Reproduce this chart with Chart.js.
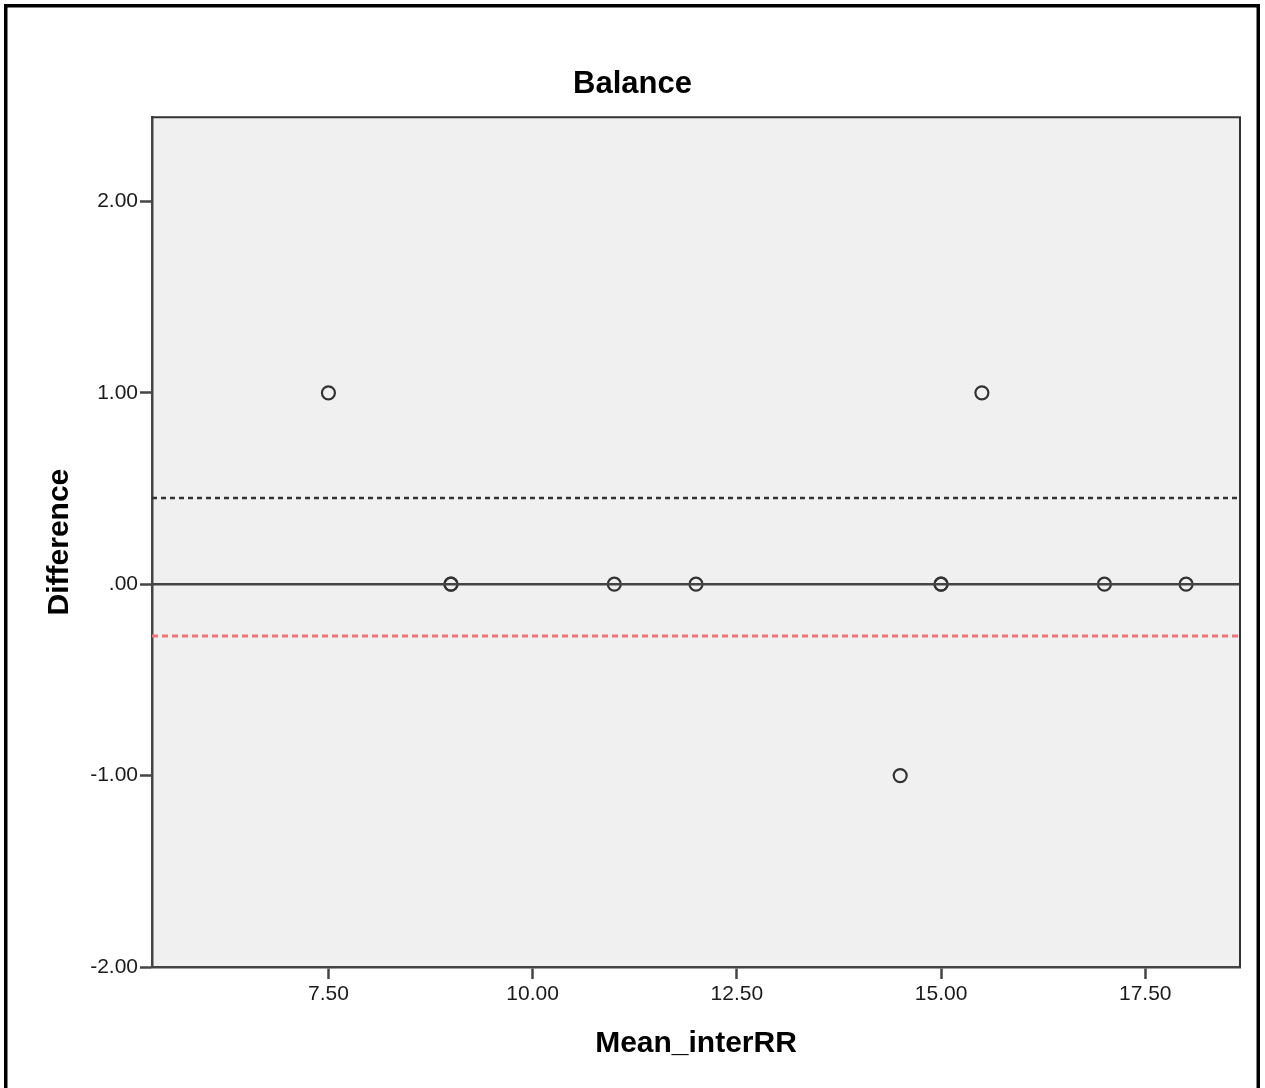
<!DOCTYPE html>
<html>
<head>
<meta charset="utf-8">
<script src="https://cdn.jsdelivr.net/npm/chart.js@4/dist/chart.umd.min.js"></script>
<style>
  html, body { margin: 0; padding: 0; background: #fff; }
  canvas { display: block; }
</style>
</head>
<body>
<canvas id="balanceChart" width="1265" height="1088"></canvas>
<script>
const meanValues = [7.5, 9, 9, 11, 12, 14.5, 15, 15, 15.5, 17, 18];
const diffValues = [1, 0, 0, 0, 0, -1, 0, 0, 1, 0, 0];

const xTicks = [7.5, 10, 12.5, 15, 17.5];
const yTicks = [-2, -1, 0, 1, 2];

const xRange = [5.34, 18.66];
const yRange = [-2, 2.44];

const zeroLine = 0;
const upperLimit = 0.45;
const lowerLimit = -0.27;

Chart.defaults.font.family = "'Liberation Sans', Arial, sans-serif";

function hLine(value) {
  return [{ x: xRange[0], y: value }, { x: xRange[1], y: value }];
}

function formatTick(value) {
  return value.toFixed(2).replace(/^(-?)0\./, "$1.");
}

const framePlugin = {
  id: "frame",
  beforeDraw(chart) {
    const ctx = chart.ctx;
    const area = chart.chartArea;
    ctx.save();
    ctx.fillStyle = "#ffffff";
    ctx.fillRect(0, 0, chart.width, chart.height);
    ctx.fillStyle = "#f0f0f0";
    ctx.fillRect(area.left, area.top, area.right - area.left, area.bottom - area.top);
    ctx.strokeStyle = "#000000";
    ctx.lineWidth = 3.5;
    ctx.strokeRect(5.75, 5.75, 1252.5, 1120);
    ctx.restore();
  },
  afterDraw(chart) {
    const ctx = chart.ctx;
    const area = chart.chartArea;
    ctx.save();
    ctx.strokeStyle = "#333333";
    ctx.lineWidth = 2;
    ctx.beginPath();
    ctx.moveTo(area.left, area.top);
    ctx.lineTo(area.right, area.top);
    ctx.lineTo(area.right, area.bottom);
    ctx.stroke();
    ctx.restore();
  }
};

const ctx = document.getElementById("balanceChart");

new Chart(ctx, {
  type: "scatter",
  data: {
    datasets: [
      {
        label: "zero",
        data: hLine(zeroLine),
        showLine: true,
        borderColor: "#444444",
        borderWidth: 2.5,
        pointRadius: 0
      },
      {
        label: "upper",
        data: hLine(upperLimit),
        showLine: true,
        borderColor: "#333333",
        borderWidth: 2.5,
        borderDash: [5, 4],
        pointRadius: 0
      },
      {
        label: "lower",
        data: hLine(lowerLimit),
        showLine: true,
        borderColor: "#f07575",
        borderWidth: 3,
        borderDash: [6, 4],
        pointRadius: 0
      },
      {
        label: "Difference",
        data: meanValues.map((m, i) => ({ x: m, y: diffValues[i] })),
        pointRadius: 6.5,
        pointBorderWidth: 2.2,
        pointBorderColor: "#333333",
        pointBackgroundColor: "rgba(0,0,0,0)"
      }
    ]
  },
  options: {
    responsive: false,
    animation: false,
    layout: {
      padding: 0
    },
    plugins: {
      legend: { display: false },
      tooltip: { enabled: false },
      title: {
        display: true,
        text: "Balance",
        color: "#000000",
        font: { size: 31, weight: "bold" },
        padding: { top: 66, bottom: 14 }
      }
    },
    scales: {
      x: {
        type: "linear",
        min: xRange[0],
        max: xRange[1],
        afterBuildTicks: scale => {
          scale.ticks = xTicks.map(v => ({ value: v }));
        },
        afterFit: scale => {
          scale.height = 121;
        },
        ticks: {
          color: "#1a1a1a",
          font: { size: 21 },
          padding: 3,
          maxRotation: 0,
          callback: formatTick
        },
        grid: {
          drawOnChartArea: false,
          tickLength: 12,
          tickWidth: 2.5,
          tickColor: "#444444"
        },
        border: {
          color: "#444444",
          width: 2.5
        },
        title: {
          display: true,
          text: "Mean_interRR",
          color: "#000000",
          font: { size: 30, weight: "bold" },
          padding: { top: 0, bottom: 26 }
        }
      },
      y: {
        type: "linear",
        min: yRange[0],
        max: yRange[1],
        afterBuildTicks: scale => {
          scale.ticks = yTicks.map(v => ({ value: v }));
        },
        afterFit: scale => {
          scale.width = 152;
        },
        ticks: {
          color: "#1a1a1a",
          font: { size: 21 },
          padding: 2,
          callback: formatTick
        },
        grid: {
          drawOnChartArea: false,
          tickLength: 12,
          tickWidth: 2.5,
          tickColor: "#444444"
        },
        border: {
          color: "#444444",
          width: 2.5
        },
        title: {
          display: true,
          text: "Difference",
          color: "#000000",
          font: { size: 30, weight: "bold" },
          padding: { top: 42, bottom: 0 }
        }
      },
      yRight: {
        type: "linear",
        position: "right",
        display: true,
        afterFit: scale => {
          scale.width = 25;
        },
        ticks: { display: false },
        grid: { display: false },
        border: { display: false }
      }
    }
  },
  plugins: [framePlugin]
});
</script>
</body>
</html>
